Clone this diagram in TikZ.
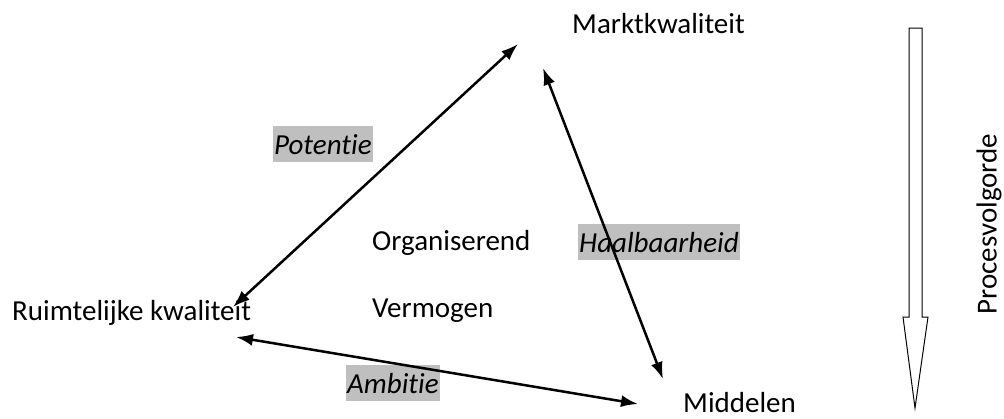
\documentclass[tikz,border=0pt]{standalone}
\usepackage{fontspec}
\setmainfont{Carlito}[Ligatures=NoCommon]
\usetikzlibrary{arrows.meta}
\tikzset{
    lbl/.style={font=\fontsize{29}{35}\selectfont, inner sep=0pt, anchor=base west},
    tag/.style={font=\fontsize{29}{35}\selectfont\itshape, fill=black!25, inner xsep=1pt, inner ysep=0pt,
        text height=27.6pt, text depth=8.4pt, anchor=base west},
    dbl/.style={{Latex[length=17pt,width=12pt]}-{Latex[length=17pt,width=12pt]}, line width=2.5pt},
}
\begin{document}
\begin{tikzpicture}[x=1pt,y=-1pt]
    \useasboundingbox (0,0) rectangle (1004,418);
        % corners
        \node[lbl] (markt) at (572, 33){Marktkwaliteit};
        \node[lbl] (ruimte) at (12, 320){Ruimtelijke kwaliteit};
        \node[lbl] (middel) at (683, 412){Middelen};

        \node[lbl] (org) at (372, 250){Organiserend};
        \node[lbl] (verm) at (372, 317){Vermogen};

        % labels on the sides
        \node[tag] (pot) at (273, 154){Potentie};
        \node[tag] (haal) at (578, 252){Haalbaarheid};
        \node[tag] (amb) at (346, 393){Ambitie};

        \coordinate (p1) at (518, 44);
        \coordinate (p2) at (233, 307);
        \coordinate (h1) at (543, 68);
        \coordinate (h2) at (663, 379);
        \coordinate (a1) at (236, 337);
        \coordinate (a2) at (638, 404);

        \draw[dbl] (p2) to (p1);
        \draw[dbl] (h1) to (h2);
        \draw[dbl] (a1) to (a2);

        % process order
        \draw[line width=1pt] (909, 28) -- (922, 28) -- (922, 317) -- (928, 317)
            -- (915, 408) -- (903, 317) -- (909, 317) -- cycle;
        \node[lbl, rotate=90, anchor=center] (proc) at (989, 224){Procesvolgorde};
\end{tikzpicture}
\end{document}
